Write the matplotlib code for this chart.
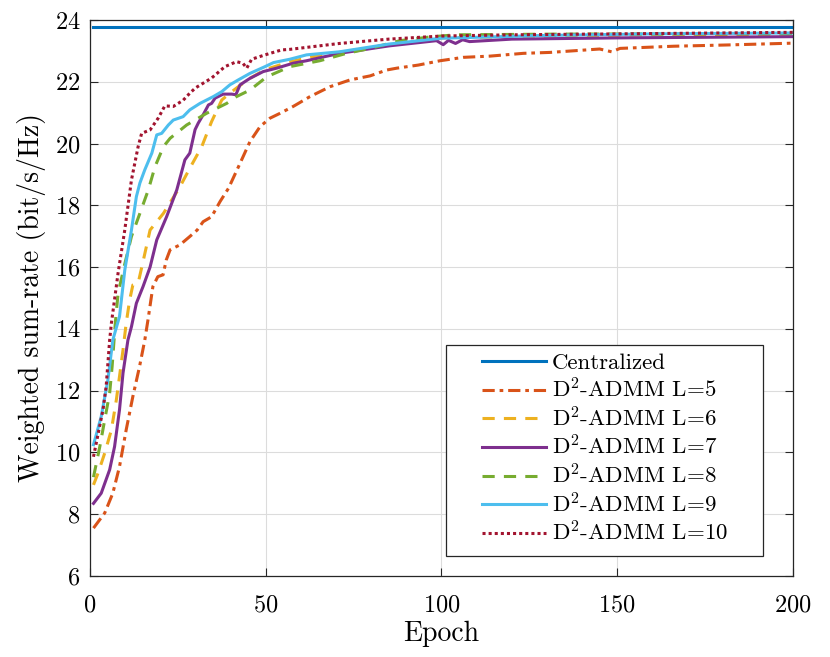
import numpy as np
import matplotlib
matplotlib.use("Agg")
import matplotlib.pyplot as plt
from matplotlib.patches import Rectangle

plt.rcParams['font.family'] = 'cmr10'
plt.rcParams['mathtext.fontset'] = 'cm'
plt.rcParams['axes.formatter.use_mathtext'] = True

# values
central_epoch = [1, 200]
central_rate = [23.77, 23.77]

e5 = [1, 4.2, 6.5, 8.4, 10.3, 12.2, 14.1, 15.6, 16.5, 17.9, 19.3, 20.8, 21.7, 22.8,
      25.6, 28.4, 30.5, 32.2, 34.6, 37, 39.4, 42.7, 45.5, 48.4, 51.2, 54.1, 57.8,
      62.6, 68.3, 74, 79.7, 84.4, 87.3, 93.4, 99.6, 106.2, 113.8, 123.3, 130.9,
      145, 148.4, 150.8, 166, 181, 200]
v5 = [7.55, 8.04, 8.68, 9.54, 10.73, 11.81, 12.78, 13.64, 14.29, 15.37, 15.69, 15.75,
      16.23, 16.56, 16.72, 16.99, 17.2, 17.47, 17.63, 18.12, 18.55, 19.36, 20.06,
      20.55, 20.82, 20.98, 21.2, 21.52, 21.84, 22.06, 22.19, 22.38, 22.44, 22.54,
      22.68, 22.79, 22.83, 22.92, 22.95, 23.06, 22.97, 23.08, 23.15, 23.19, 23.25]

e6 = [1, 2.3, 4.2, 6.1, 7.5, 8.4, 9.4, 10.3, 11.3, 12.2, 13.7, 15.2, 17.1, 20.9,
      25.6, 28.4, 31.8, 34.6, 37.5, 39.8, 42.2, 45.5, 50, 57, 65, 75, 88, 100,
      130, 160, 200]
v6 = [8.95, 9.33, 9.98, 10.73, 11.7, 12.46, 13.32, 14.18, 14.94, 15.42, 15.48, 16.23,
      17.2, 17.74, 18.6, 19.2, 19.9, 20.71, 21.41, 21.63, 21.84, 22.11, 22.4, 22.65,
      22.85, 23.02, 23.25, 23.42, 23.48, 23.52, 23.54]

e7 = [1, 3.2, 5.6, 7, 8.4, 9.4, 10.8, 11.8, 13.2, 15.1, 17.1, 19, 21.8, 24.7, 27,
      28.4, 29.9, 30.8, 32.2, 33.7, 34.6, 35.6, 37.9, 40.3, 41.5, 42.7, 45.5, 49.3,
      53.1, 57.8, 61.6, 71, 85, 98.6, 100.5, 102, 104, 106, 108, 120, 150, 200]
v7 = [8.35, 8.68, 9.44, 10.19, 11.38, 12.57, 13.64, 14.07, 14.83, 15.37, 16.0, 16.88,
      17.63, 18.5, 19.47, 19.69, 20.45, 20.66, 20.93, 21.25, 21.3, 21.47, 21.6, 21.6,
      21.58, 21.9, 22.11, 22.33, 22.44, 22.6, 22.68, 22.92, 23.16, 23.33, 23.2, 23.34,
      23.24, 23.36, 23.3, 23.38, 23.42, 23.46]

e8 = [1, 2.8, 4.2, 5.6, 6.3, 7.2, 8, 9.9, 11.8, 14.2, 16.6, 18.5, 20.9, 22.8, 27.5,
      33.2, 38.9, 41.7, 45.5, 50.3, 56.9, 65.4, 73, 79.7, 88.2, 96.7, 104, 130,
      160, 200]
v8 = [9.2, 10.19, 11.06, 11.92, 12.78, 14.18, 15.15, 16.1, 16.99, 17.74, 18.5, 19.25,
      19.9, 20.17, 20.6, 20.98, 21.3, 21.52, 21.73, 22.16, 22.49, 22.68, 22.92, 23.08,
      23.33, 23.45, 23.52, 23.54, 23.55, 23.56]

e9 = [1, 3.2, 5.1, 6.5, 8.4, 9.9, 11.8, 13.2, 14.2, 15.6, 17.6, 19, 20.4, 22.3,
      23.7, 26.5, 28.4, 31.3, 35.1, 37.5, 39.8, 42.2, 45.5, 49.8, 52.2, 56.9, 61.6,
      71, 85, 100, 130, 160, 200]
v9 = [10.25, 11.16, 12.35, 13.64, 14.4, 15.9, 17.2, 18.28, 18.72, 19.15, 19.69, 20.28,
      20.33, 20.6, 20.76, 20.87, 21.09, 21.3, 21.52, 21.68, 21.9, 22.06, 22.27, 22.49,
      22.62, 22.73, 22.87, 22.97, 23.22, 23.41, 23.5, 23.55, 23.58]

e10 = [1, 3.7, 4.6, 5.6, 6.1, 8, 9.9, 11.8, 13.7, 14.7, 17.1, 19.4, 21.3, 23.7, 26.5,
       28.4, 30, 34.6, 38.4, 41.7, 43.5, 44.6, 46, 49.8, 54.5, 57, 71, 85, 100, 120,
       150, 200]
v10 = [9.86, 11.38, 12.13, 13.64, 14.19, 15.81, 17.2, 18.82, 19.9, 20.33, 20.44, 20.82,
       21.22, 21.2, 21.4, 21.63, 21.8, 22.12, 22.49, 22.65, 22.6, 22.44, 22.73, 22.87,
       23.03, 23.05, 23.24, 23.38, 23.48, 23.52, 23.55, 23.6]

fig = plt.figure(figsize=(8.3, 6.57), dpi=100)
ax = fig.add_axes([0.1084, 0.1233, 0.8470, 0.8463])

lw = 2.2
ax.plot(central_epoch, central_rate, color='#0072BD', lw=lw, label='Centralized')
ax.plot(e5, v5, color='#D95319', lw=lw, ls=(0, (4, 1.6, 1.2, 1.6)), label='D$^2$-ADMM L=5')
ax.plot(e6, v6, color='#EDB120', lw=lw, ls=(0, (4, 3)), label='D$^2$-ADMM L=6')
ax.plot(e7, v7, color='#7E2F8E', lw=lw, label='D$^2$-ADMM L=7')
ax.plot(e8, v8, color='#77AC30', lw=lw, ls=(0, (4, 3)), label='D$^2$-ADMM L=8')
ax.plot(e9, v9, color='#4DBEEE', lw=lw, label='D$^2$-ADMM L=9')
ax.plot(e10, v10, color='#A2142F', lw=lw, ls=(0, (1, 1)), label='D$^2$-ADMM L=10')

ax.set_xlim(0, 200)
ax.set_ylim(6, 24)
ax.set_xticks([0, 50, 100, 150, 200])
ax.set_yticks(np.arange(6, 25, 2))
ax.grid(True, color='#dcdcdc', lw=0.8)
ax.tick_params(direction='in', top=True, right=True, labelsize=17.5, length=6,
               color='#262626')
ax.tick_params(axis='x', pad=13)
ax.tick_params(axis='y', pad=7)
for s in ax.spines.values():
    s.set_color('#262626')
    s.set_linewidth(0.9)

ax.set_xlabel('Epoch', fontsize=20, labelpad=3)
ax.set_ylabel('Weighted sum-rate (bit/s/Hz)', fontsize=20, labelpad=6)

# MATLAB-style legend box with wide side padding
box = Rectangle((0.5064, 0.036), 0.4509, 0.3795, transform=ax.transAxes,
                facecolor='white', edgecolor='#262626', lw=0.9, zorder=4)
ax.add_patch(box)
leg = ax.legend(loc='upper left', bbox_to_anchor=(0.5576, 0.401), borderaxespad=0,
                borderpad=0, fontsize=16.5, handlelength=2.8, handletextpad=0.26,
                labelspacing=0.19, frameon=False)
leg.set_zorder(5)

fig.savefig('out.png', dpi=100)
